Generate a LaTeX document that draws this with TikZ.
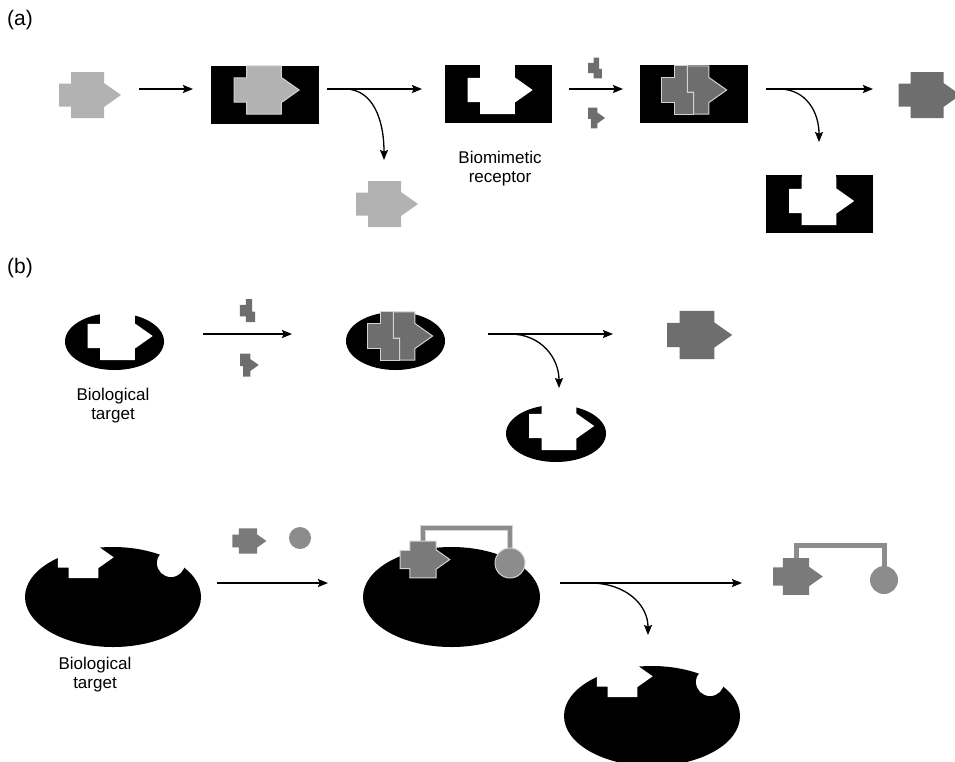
\documentclass[tikz,border=0pt]{standalone}
\usepackage{fontspec}
\setmainfont{Liberation Sans}
\usetikzlibrary{arrows.meta}
\definecolor{keylight}{HTML}{B2B2B2}
\definecolor{keydark}{HTML}{6E6E6E}
\definecolor{ligb}{HTML}{7A7A7A}
\definecolor{tetherc}{HTML}{8C8C8C}
\definecolor{rim}{HTML}{D2D2D2}

\tikzset{
  arr/.style={line width=1.3pt,-{Stealth[length=10pt,width=8pt,inset=1.5pt]}},
  lbl/.style={font=\fontsize{17}{19}\selectfont,align=center},
  tag/.style={font=\fontsize{21}{24}\selectfont},
  inbound/.style={draw=rim,line width=1pt},
  tether/.style={draw=rim,double=tetherc,double distance=3.5pt,line width=1pt},
  pics/key/.style={code={
    \fill[#1] (-16.5,-23) -- (16.5,-23) -- (16.5,-12) -- (33.5,0) -- (16.5,12) -- (16.5,23)
      -- (-16.5,23) -- (-16.5,11.5) -- (-28.5,11.5) -- (-28.5,-11.5) -- (-16.5,-11.5) -- cycle;}},
  pics/lefthalf/.style={code={
    \fill[#1] (-16.5,-23) -- (-4,-23) -- (-4,2) -- (2,2) -- (2,23) -- (-16.5,23)
      -- (-16.5,11.5) -- (-28.5,11.5) -- (-28.5,-11.5) -- (-16.5,-11.5) -- cycle;}},
  pics/righthalf/.style={code={
    \fill[#1] (-4,-23) -- (16.5,-23) -- (16.5,-12) -- (33.5,0) -- (16.5,12) -- (16.5,23)
      -- (2,23) -- (2,2) -- (-4,2) -- cycle;}},
  pics/hole/.style={code={
    \fill[white] (-16.5,-23) -- (16.5,-23) -- (16.5,-12) -- (33.5,0) -- (16.5,12) -- (16.5,23)
      -- (-16.5,23) -- (-16.5,11.5) -- (-28.5,11.5) -- (-28.5,-11.5) -- (-16.5,-11.5) -- cycle;
    \fill[white] (-16.5,-22) rectangle (16.5,-34);}}
}

\begin{document}
\begin{tikzpicture}[x=1pt,y=-1pt]
\useasboundingbox[fill=white] (0,0) rectangle (955,761);

\node[tag] (taga) at (20,20) {(a)};
\node[tag] (tagb) at (20,268) {(b)};

% row (a)
\pic at (87.5,95) {key=keylight};
\fill (211,66) rectangle (319,124);
\pic[scale=1.05] at (264,90) {key={keylight,inbound}};
\pic at (384.5,204) {key=keylight};
\fill (445,65) rectangle (552,123);
\pic[scale=1.05] at (497.5,90) {hole};
\node[lbl] (biomim) at (500,169) {Biomimetic\\receptor};
\pic[scale=.45] at (601,68) {lefthalf=keydark};
\pic[scale=.45] at (590,118) {righthalf=keydark};
\fill (640,65) rectangle (748,123);
\pic[scale=1.05] at (691.5,90) {lefthalf={keydark,inbound}};
\pic[scale=1.05] at (691.5,90) {righthalf={keydark,inbound}};
\pic at (927,95) {key=keydark};
\fill (766,175) rectangle (873,233);
\pic[scale=1.05] at (819,201) {hole};

\coordinate (a1s) at (139,89);
\coordinate (a1e) at (193,89);
\coordinate (a2s) at (327,89);
\coordinate (a2e) at (422,89);
\coordinate (a2b) at (345,89);
\coordinate (a2d) at (384,160);
\coordinate (a3s) at (569,89);
\coordinate (a3e) at (623,89);
\coordinate (a4s) at (766,89);
\coordinate (a4e) at (873,89);
\coordinate (a4b) at (779,89);
\coordinate (a4d) at (819,142);
\draw[arr] (a1s) -- (a1e);
\draw[arr] (a2s) -- (a2e);
\draw[arr] (a2b) .. controls (372,89) and (384,118) .. (a2d);
\draw[arr] (a3s) -- (a3e);
\draw[arr] (a4s) -- (a4e);
\draw[arr] (a4b) .. controls (806,89) and (819,112) .. (a4d);

% row (b), fragments
\fill (114.5,341.5) ellipse [x radius=49.5,y radius=28.5];
\pic[scale=1.05] at (117.5,336) {hole};
\node[lbl] (target1) at (113,406) {Biological\\target};
\pic[scale=.5] at (254,310.5) {lefthalf=keydark};
\pic[scale=.5] at (242,365) {righthalf=keydark};
\fill (395.5,341) ellipse [x radius=49.5,y radius=29];
\pic[scale=1.05] at (397.5,336) {lefthalf={keydark,inbound}};
\pic[scale=1.05] at (397.5,336) {righthalf={keydark,inbound}};
\pic[scale=1.05] at (697,335) {key=keydark};
\fill (556,433.5) ellipse [x radius=50,y radius=28.5];
\pic[scale=1.05] at (559,426) {hole};

\coordinate (b1s) at (203,334);
\coordinate (b1e) at (292,334);
\coordinate (b2s) at (488,334);
\coordinate (b2e) at (613,334);
\coordinate (b2b) at (510,334);
\coordinate (b2d) at (559,388);
\draw[arr] (b1s) -- (b1e);
\draw[arr] (b2s) -- (b2e);
\draw[arr] (b2b) .. controls (541,334) and (559,358) .. (b2d);

% row (b), tethered ligand
\fill (113,597) ellipse [x radius=88,y radius=50];
\pic[scale=.9] at (83.5,557.3) {hole};
\fill[white] (171,563) circle [radius=14];
\node[lbl] (target2) at (95,675) {Biological\\target};
\pic[scale=.55] at (248,541) {key=ligb};
\fill[tetherc] (300,538) circle [radius=11];
\fill (451.5,597) ellipse [x radius=88.5,y radius=50];
\draw[tether] (423,545) |- (510,528) -- (510,550);
\pic[scale=.8] at (423,559.5) {key={ligb,inbound}};
\filldraw[fill=tetherc,draw=rim,line width=1pt] (510,563) circle [radius=15];
\draw[line width=5pt,tetherc] (796,565) |- (884,545) -- (884,570);
\pic[scale=.8] at (796,576.5) {key=ligb};
\fill[tetherc] (884,580) circle [radius=14];
\fill (652,716) ellipse [x radius=88,y radius=50];
\pic[scale=.9] at (622.5,676.3) {hole};
\fill[white] (710,682) circle [radius=14];

\coordinate (c1s) at (217,583);
\coordinate (c1e) at (328,583);
\coordinate (c2s) at (560,583);
\coordinate (c2e) at (742,583);
\coordinate (c2b) at (590,583);
\coordinate (c2d) at (648,635);
\draw[arr] (c1s) -- (c1e);
\draw[arr] (c2s) -- (c2e);
\draw[arr] (c2b) .. controls (626,583) and (648,605) .. (c2d);
\end{tikzpicture}
\end{document}
